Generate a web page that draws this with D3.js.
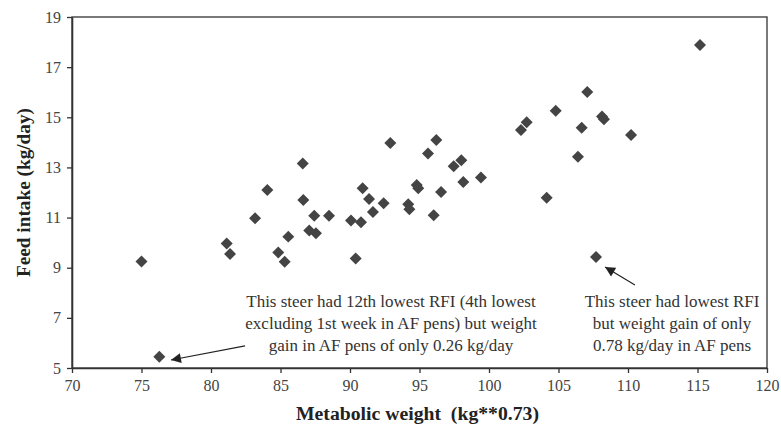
<!DOCTYPE html>
<html><head><meta charset="utf-8">
<script src="https://cdn.jsdelivr.net/npm/d3@7"></script>
<style>body{margin:0;background:#fff}svg{display:block}</style>
</head><body>
<svg id="c" width="781" height="429"></svg>
<script>
const metabolicWeight = [75.0,76.28,81.13,81.37,83.17,84.05,84.84,85.30,85.56,86.6,86.64,87.07,87.55,87.43,88.49,90.07,90.41,90.79,90.91,91.37,91.65,92.42,92.9,94.19,94.27,94.8,94.91,95.61,96.21,96.02,96.55,97.46,98.01,98.15,99.42,102.3,102.71,104.15,104.8,106.4,106.67,107.07,107.7,108.13,108.27,110.22,115.18];
const feedIntake = [9.25,5.45,9.97,9.55,10.97,12.10,9.61,9.24,10.24,13.16,11.70,10.48,10.37,11.07,11.07,10.88,9.37,10.81,12.17,11.74,11.22,11.57,13.97,11.53,11.33,12.30,12.17,13.56,14.09,11.09,12.02,13.05,13.29,12.42,12.60,14.49,14.8,11.79,15.26,13.43,14.58,16.01,9.43,15.03,14.92,14.29,17.88];
const xTicks = [70,75,80,85,90,95,100,105,110,115,120];
const yTicks = [5,7,9,11,13,15,17,19];
const xTitle = "Metabolic weight\u00a0 (kg**0.73)";
const yTitle = "Feed intake (kg/day)";
const noteLeft = ["This steer had 12th lowest RFI (4th lowest","excluding 1st week in AF pens) but weight","gain in AF pens of only 0.26 kg/day"];
const noteRight = ["This steer had lowest RFI","but weight gain of only","0.78 kg/day in AF pens"];

const svg = d3.select("#c");
const L=72,R=767,T=17,B=368;
const x = d3.scaleLinear().domain([70,120]).range([L,R]);
const y = d3.scaleLinear().domain([5,19]).range([B,T]);
const font = "'Liberation Serif','Times New Roman',serif";

// frame
svg.append("rect").attr("x",L).attr("y",T).attr("width",R-L).attr("height",B-T)
  .attr("fill","none").attr("stroke","#333").attr("stroke-width",1.3);

const xa = svg.append("g").attr("transform",`translate(0,${B})`)
  .call(d3.axisBottom(x).tickValues(xTicks).tickSize(5).tickPadding(7).tickSizeOuter(0));
const ya = svg.append("g").attr("transform",`translate(${L},0)`)
  .call(d3.axisLeft(y).tickValues(yTicks).tickSize(5).tickPadding(6).tickSizeOuter(0));
[xa,ya].forEach(g=>{
  g.select(".domain").attr("stroke","#333").attr("stroke-width",1.6);
  g.selectAll(".tick line").attr("stroke","#333").attr("stroke-width",1.3);
  g.selectAll(".tick text").attr("font-family",font).attr("font-size",16).attr("fill","#444");
});

// points
svg.append("g").selectAll("path").data(metabolicWeight.map((d,i)=>[d,feedIntake[i]]))
  .join("path")
  .attr("d",d3.symbol(d3.symbolSquare,72))
  .attr("transform",d=>`translate(${x(d[0])},${y(d[1])}) rotate(45)`)
  .attr("fill","#444");

// titles
svg.append("text").attr("x",417.5).attr("y",420).attr("text-anchor","middle")
  .attr("font-family",font).attr("font-weight","bold").attr("font-size",18).attr("fill","#222")
  .attr("textLength",243).attr("lengthAdjust","spacingAndGlyphs").text(xTitle);
svg.append("text").attr("transform",`translate(30,192.5) rotate(-90)`).attr("text-anchor","middle")
  .attr("font-family",font).attr("font-weight","bold").attr("font-size",18).attr("fill","#222")
  .attr("textLength",169).attr("lengthAdjust","spacingAndGlyphs").text(yTitle);

// notes
function note(lines,cx){
  const t = svg.append("text").attr("font-family",font).attr("font-size",17).attr("fill","#333").attr("text-anchor","middle");
  lines.forEach((s,i)=>t.append("tspan").attr("x",cx).attr("y",307+i*22).text(s));
}
note(noteLeft,391);
note(noteRight,672);

// arrows
svg.append("defs").append("marker").attr("id","ah").attr("viewBox","0 0 10 10").attr("refX",10).attr("refY",5)
  .attr("markerWidth",14).attr("markerHeight",10).attr("markerUnits","userSpaceOnUse").attr("orient","auto")
  .append("path").attr("d","M0,0L10,5L0,10Z").attr("fill","#222");
function arrow(x1,y1,x2,y2){
  svg.append("line").attr("x1",x(x1)).attr("y1",y(y1)).attr("x2",x(x2)).attr("y2",y(y2))
    .attr("stroke","#222").attr("stroke-width",1.2).attr("marker-end","url(#ah)");
}
arrow(82.45,5.88,77.12,5.32);
arrow(110.5,8.31,108.35,9.03);
</script>
</body></html>
